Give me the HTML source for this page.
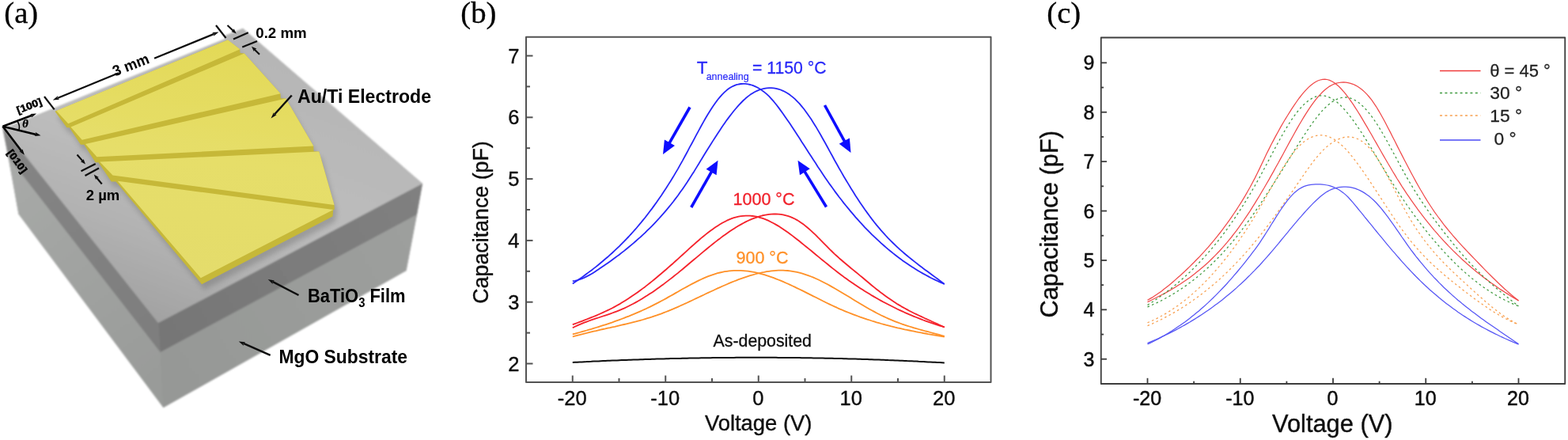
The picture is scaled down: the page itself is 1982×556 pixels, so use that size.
<!DOCTYPE html>
<html lang="en"><head><meta charset="utf-8"><title>Figure</title>
<style>html,body{margin:0;padding:0;background:#fff;}svg{display:block;}</style>
</head><body>
<svg width="1982" height="556" viewBox="0 0 1982 556">
<defs>
<linearGradient id="gTop" gradientUnits="userSpaceOnUse" x1="330" y1="40" x2="190" y2="410">
<stop offset="0" stop-color="#b5b5b5"/><stop offset="0.5" stop-color="#bcbcbc"/><stop offset="0.72" stop-color="#b3b3b3"/><stop offset="1" stop-color="#a1a1a1"/></linearGradient>
<linearGradient id="gFilmL" gradientUnits="userSpaceOnUse" x1="5" y1="170" x2="200" y2="430">
<stop offset="0" stop-color="#858585"/><stop offset="1" stop-color="#7e7e7e"/></linearGradient>
<linearGradient id="gFilmR" gradientUnits="userSpaceOnUse" x1="200" y1="430" x2="530" y2="250">
<stop offset="0" stop-color="#767676"/><stop offset="1" stop-color="#808080"/></linearGradient>
<linearGradient id="gSubL" gradientUnits="userSpaceOnUse" x1="15" y1="230" x2="205" y2="480">
<stop offset="0" stop-color="#a7a9a7"/><stop offset="1" stop-color="#999b99"/></linearGradient>
<linearGradient id="gSubR" gradientUnits="userSpaceOnUse" x1="205" y1="480" x2="520" y2="300">
<stop offset="0" stop-color="#969896"/><stop offset="1" stop-color="#9d9f9d"/></linearGradient>
<linearGradient id="gY" gradientUnits="userSpaceOnUse" x1="290" y1="50" x2="250" y2="350">
<stop offset="0" stop-color="#e3d957"/><stop offset="0.5" stop-color="#e6de69"/><stop offset="1" stop-color="#e4dc6c"/></linearGradient>
<filter id="blur3" x="-20%" y="-20%" width="140%" height="140%"><feGaussianBlur stdDeviation="3"/></filter>
<filter id="soft" x="-5%" y="-5%" width="110%" height="110%"><feGaussianBlur stdDeviation="1.0"/></filter>
<filter id="softT" x="-5%" y="-5%" width="110%" height="110%"><feGaussianBlur stdDeviation="0.4"/></filter>
<filter id="softE" x="-5%" y="-5%" width="110%" height="110%"><feGaussianBlur stdDeviation="0.75"/></filter>
</defs>
<g id="panelA" filter="url(#soft)">
<polygon points="3.00,160.50 10.00,160.17 285.00,48.90 283.50,45.51 307.00,36.00 534.00,232.00 527.00,271.00 513.50,342.00 206.50,515.00 23.50,270.50 10.40,198.00" fill="#8f908f" />
<polygon points="10.40,198.00 202.70,445.00 206.50,515.00 23.50,270.50" fill="url(#gSubL)" />
<polygon points="202.70,445.00 527.00,271.00 513.50,342.00 206.50,515.00" fill="url(#gSubR)" />
<polygon points="3.00,159.00 200.00,408.00 202.70,445.00 10.40,198.00" fill="url(#gFilmL)" />
<polygon points="200.00,408.00 534.00,232.00 527.00,271.00 202.70,445.00" fill="url(#gFilmR)" />
<polygon points="3.00,160.50 10.00,160.17 285.00,48.90 283.50,45.51 307.00,36.00 534.00,232.00 200.00,408.00" fill="url(#gTop)" />
</g>
<g id="electrode">
<polygon points="291.00,57.40 306.25,69.30 306.55,74.10 311.75,74.40 357.50,125.30 357.80,131.20 364.25,131.50 399.25,191.60 399.55,198.20 406.25,198.50 425.50,266.00 425.80,271.70 424.25,272.00 423.50,280.50 258.00,366.30 252.60,359.50 149.45,236.55 143.70,236.55 127.45,212.30 123.70,212.30 109.20,189.80 104.95,189.80 90.70,168.30 87.45,168.30 72.45,147.80" fill="#555" opacity="0.3" filter="url(#blur3)"/>
<g filter="url(#softE)">
<polygon points="288.00,50.40 303.25,62.30 303.55,67.10 308.75,67.40 354.50,118.30 354.80,124.20 361.25,124.50 396.25,184.60 396.55,191.20 403.25,191.50 422.50,259.00 422.80,264.70 421.25,265.00 420.50,273.50 255.00,359.30 249.60,352.50 146.45,229.55 140.70,229.55 124.45,205.30 120.70,205.30 106.20,182.80 101.95,182.80 87.70,161.30 84.45,161.30 69.45,140.80" fill="#c6b838" />
<polygon points="71.25,140.00 288.00,50.40 303.25,62.30 86.25,156.30" fill="url(#gY)" />
<polygon points="89.50,160.50 308.75,67.40 354.50,118.30 103.75,176.70" fill="url(#gY)" />
<polygon points="108.00,182.00 361.25,124.50 396.25,184.60 122.50,198.20" fill="url(#gY)" />
<polygon points="126.25,204.50 403.25,191.50 422.50,259.00 142.50,221.40" fill="url(#gY)" />
<polygon points="148.75,228.75 421.25,265.00 253.75,351.25" fill="url(#gY)" />
</g>
</g>
<g id="labelsA" filter="url(#softT)">
<text x="5.30" y="28.80" font-family='"Liberation Serif", "Times New Roman", serif' font-size="38.7" font-weight="normal" font-style="normal" fill="#000" text-anchor="start"  stroke="#000" stroke-width="0.3" stroke-linejoin="round">(a)</text>
<line x1="56.00" y1="122.00" x2="68.70" y2="138.40" stroke="#111" stroke-width="2.2" />
<line x1="273.00" y1="32.00" x2="285.50" y2="48.00" stroke="#111" stroke-width="2.2" />
<line x1="150.00" y1="92.30" x2="72.72" y2="123.97" stroke="#111" stroke-width="2.3" /><polygon points="66.80,126.40 73.25,121.05 72.35,124.12 75.15,125.68" fill="#111"/>
<line x1="195.00" y1="73.80" x2="270.58" y2="42.83" stroke="#111" stroke-width="2.3" /><polygon points="276.50,40.40 270.05,45.75 270.95,42.68 268.15,41.12" fill="#111"/>
<g transform="translate(167.5,88) rotate(-21.3)"><text x="0.00" y="0.00" font-family='"Liberation Sans", Arial, Helvetica, sans-serif' font-size="19" font-weight="bold" font-style="normal" fill="#000" text-anchor="middle" textLength="48" lengthAdjust="spacingAndGlyphs" >3 mm</text></g>
<line x1="295.00" y1="49.50" x2="313.75" y2="41.25" stroke="#111" stroke-width="2.2" />
<line x1="306.25" y1="59.50" x2="325.00" y2="52.00" stroke="#111" stroke-width="2.2" />
<line x1="287.50" y1="32.00" x2="294.95" y2="38.95" stroke="#111" stroke-width="2.1" /><polygon points="298.75,42.50 292.29,39.89 294.71,38.73 295.70,36.24" fill="#111"/>
<line x1="328.00" y1="68.75" x2="321.68" y2="62.43" stroke="#111" stroke-width="2.1" /><polygon points="318.00,58.75 324.36,61.58 321.91,62.66 320.83,65.11" fill="#111"/>
<text x="323.25" y="47.70" font-family='"Liberation Sans", Arial, Helvetica, sans-serif' font-size="18.5" font-weight="bold" font-style="normal" fill="#000" text-anchor="start" textLength="64.5" lengthAdjust="spacingAndGlyphs" >0.2 mm</text>
<line x1="102.50" y1="216.25" x2="120.75" y2="207.00" stroke="#111" stroke-width="2.2" />
<line x1="107.50" y1="222.00" x2="125.00" y2="212.50" stroke="#111" stroke-width="2.2" />
<line x1="97.50" y1="195.50" x2="104.58" y2="203.59" stroke="#111" stroke-width="2.1" /><polygon points="108.00,207.50 101.84,204.25 104.36,203.34 105.60,200.96" fill="#111"/>
<line x1="128.75" y1="232.50" x2="122.08" y2="224.49" stroke="#111" stroke-width="2.1" /><polygon points="118.75,220.50 124.83,223.89 122.29,224.74 120.99,227.09" fill="#111"/>
<text x="108.75" y="252.70" font-family='"Liberation Sans", Arial, Helvetica, sans-serif' font-size="19" font-weight="bold" font-style="normal" fill="#000" text-anchor="start" textLength="42.5" lengthAdjust="spacingAndGlyphs" >2 µm</text>
<line x1="3.50" y1="159.70" x2="40.39" y2="145.73" stroke="#000" stroke-width="2.6" /><polygon points="46.00,143.60 39.87,148.59 40.74,145.59 38.10,143.92" fill="#000"/>
<line x1="3.50" y1="159.70" x2="45.67" y2="169.89" stroke="#000" stroke-width="2.6" /><polygon points="51.50,171.30 43.62,171.97 46.03,169.98 44.80,167.11" fill="#000"/>
<line x1="3.50" y1="159.70" x2="27.27" y2="191.02" stroke="#000" stroke-width="2.6" /><polygon points="30.90,195.80 24.37,191.34 27.50,191.32 28.36,188.31" fill="#000"/>
<path d="M22,153.2 Q25.5,158 24,164.3" fill="none" stroke="#000" stroke-width="1.6"/>
<text x="28.30" y="161.30" font-family='"Liberation Serif", "Times New Roman", serif' font-size="14.5" font-weight="bold" font-style="italic" fill="#000" text-anchor="start"  stroke="#000" stroke-width="0.3" stroke-linejoin="round">θ</text>
<g transform="translate(37,134) rotate(-21)"><text x="0.00" y="4.00" font-family='"Liberation Sans", Arial, Helvetica, sans-serif' font-size="12.5" font-weight="bold" font-style="normal" fill="#000" text-anchor="middle" textLength="33" lengthAdjust="spacingAndGlyphs"  stroke="#000" stroke-width="0.5" stroke-linejoin="round">[100]</text></g>
<g transform="translate(21.5,204) rotate(54)"><text x="0.00" y="4.00" font-family='"Liberation Sans", Arial, Helvetica, sans-serif' font-size="12.5" font-weight="bold" font-style="normal" fill="#000" text-anchor="middle" textLength="33" lengthAdjust="spacingAndGlyphs"  stroke="#000" stroke-width="0.5" stroke-linejoin="round">[010]</text></g>
<line x1="368.75" y1="120.50" x2="346.79" y2="144.76" stroke="#111" stroke-width="2.5" /><polygon points="342.50,149.50 346.02,141.89 346.53,145.05 349.72,145.25" fill="#111"/>
<text x="376.00" y="129.50" font-family='"Liberation Sans", Arial, Helvetica, sans-serif' font-size="23.7" font-weight="bold" font-style="normal" fill="#000" text-anchor="start" textLength="169" lengthAdjust="spacingAndGlyphs" >Au/Ti Electrode</text>
<line x1="377.50" y1="373.00" x2="344.44" y2="355.94" stroke="#111" stroke-width="2.5" /><polygon points="338.75,353.00 347.01,354.45 344.08,355.75 344.71,358.89" fill="#111"/>
<text x="389" y="382.2" font-family='"Liberation Sans", Arial, sans-serif' font-size="23.7" font-weight="bold" fill="#000" textLength="123.5" lengthAdjust="spacingAndGlyphs">BaTiO<tspan font-size="16" dy="5.5">3</tspan><tspan dy="-5.5"> Film</tspan></text>
<line x1="341.70" y1="448.90" x2="307.66" y2="433.97" stroke="#111" stroke-width="2.5" /><polygon points="301.80,431.40 310.13,432.32 307.29,433.81 308.12,436.90" fill="#111"/>
<text x="352.50" y="459.30" font-family='"Liberation Sans", Arial, Helvetica, sans-serif' font-size="23.7" font-weight="bold" font-style="normal" fill="#000" text-anchor="start" textLength="162.5" lengthAdjust="spacingAndGlyphs" >MgO Substrate</text>
</g>
<g id="panelB" filter="url(#softT)">
<text x="582.30" y="28.80" font-family='"Liberation Serif", "Times New Roman", serif' font-size="38.7" font-weight="normal" font-style="normal" fill="#000" text-anchor="start"  stroke="#000" stroke-width="0.3" stroke-linejoin="round">(b)</text>
<rect x="665" y="46.75" width="587.5" height="436.25" fill="none" stroke="#525252" stroke-width="2.0" stroke-linejoin="round"/><line x1="723.75" y1="483.00" x2="723.75" y2="474.50" stroke="#525252" stroke-width="2.0" /><text x="723.25" y="511.80" font-family='"Liberation Sans", Arial, Helvetica, sans-serif' font-size="25.5" font-weight="normal" font-style="normal" fill="#111" text-anchor="middle"  stroke="#111" stroke-width="0.4" stroke-linejoin="round">-20</text><line x1="782.50" y1="483.00" x2="782.50" y2="478.00" stroke="#525252" stroke-width="2.0" /><line x1="841.25" y1="483.00" x2="841.25" y2="474.50" stroke="#525252" stroke-width="2.0" /><text x="840.75" y="511.80" font-family='"Liberation Sans", Arial, Helvetica, sans-serif' font-size="25.5" font-weight="normal" font-style="normal" fill="#111" text-anchor="middle"  stroke="#111" stroke-width="0.4" stroke-linejoin="round">-10</text><line x1="900.00" y1="483.00" x2="900.00" y2="478.00" stroke="#525252" stroke-width="2.0" /><line x1="958.75" y1="483.00" x2="958.75" y2="474.50" stroke="#525252" stroke-width="2.0" /><text x="958.25" y="511.80" font-family='"Liberation Sans", Arial, Helvetica, sans-serif' font-size="25.5" font-weight="normal" font-style="normal" fill="#111" text-anchor="middle"  stroke="#111" stroke-width="0.4" stroke-linejoin="round">0</text><line x1="1017.50" y1="483.00" x2="1017.50" y2="478.00" stroke="#525252" stroke-width="2.0" /><line x1="1076.25" y1="483.00" x2="1076.25" y2="474.50" stroke="#525252" stroke-width="2.0" /><text x="1075.75" y="511.80" font-family='"Liberation Sans", Arial, Helvetica, sans-serif' font-size="25.5" font-weight="normal" font-style="normal" fill="#111" text-anchor="middle"  stroke="#111" stroke-width="0.4" stroke-linejoin="round">10</text><line x1="1135.00" y1="483.00" x2="1135.00" y2="478.00" stroke="#525252" stroke-width="2.0" /><line x1="1193.75" y1="483.00" x2="1193.75" y2="474.50" stroke="#525252" stroke-width="2.0" /><text x="1193.25" y="511.80" font-family='"Liberation Sans", Arial, Helvetica, sans-serif' font-size="25.5" font-weight="normal" font-style="normal" fill="#111" text-anchor="middle"  stroke="#111" stroke-width="0.4" stroke-linejoin="round">20</text><line x1="665.00" y1="459.50" x2="673.50" y2="459.50" stroke="#525252" stroke-width="2.0" /><text x="656.50" y="468.63" font-family='"Liberation Sans", Arial, Helvetica, sans-serif' font-size="25.5" font-weight="normal" font-style="normal" fill="#111" text-anchor="end"  stroke="#111" stroke-width="0.4" stroke-linejoin="round">2</text><line x1="665.00" y1="420.60" x2="670.00" y2="420.60" stroke="#525252" stroke-width="2.0" /><line x1="665.00" y1="381.70" x2="673.50" y2="381.70" stroke="#525252" stroke-width="2.0" /><text x="656.50" y="390.83" font-family='"Liberation Sans", Arial, Helvetica, sans-serif' font-size="25.5" font-weight="normal" font-style="normal" fill="#111" text-anchor="end"  stroke="#111" stroke-width="0.4" stroke-linejoin="round">3</text><line x1="665.00" y1="342.80" x2="670.00" y2="342.80" stroke="#525252" stroke-width="2.0" /><line x1="665.00" y1="303.90" x2="673.50" y2="303.90" stroke="#525252" stroke-width="2.0" /><text x="656.50" y="313.03" font-family='"Liberation Sans", Arial, Helvetica, sans-serif' font-size="25.5" font-weight="normal" font-style="normal" fill="#111" text-anchor="end"  stroke="#111" stroke-width="0.4" stroke-linejoin="round">4</text><line x1="665.00" y1="265.00" x2="670.00" y2="265.00" stroke="#525252" stroke-width="2.0" /><line x1="665.00" y1="226.10" x2="673.50" y2="226.10" stroke="#525252" stroke-width="2.0" /><text x="656.50" y="235.23" font-family='"Liberation Sans", Arial, Helvetica, sans-serif' font-size="25.5" font-weight="normal" font-style="normal" fill="#111" text-anchor="end"  stroke="#111" stroke-width="0.4" stroke-linejoin="round">5</text><line x1="665.00" y1="187.20" x2="670.00" y2="187.20" stroke="#525252" stroke-width="2.0" /><line x1="665.00" y1="148.30" x2="673.50" y2="148.30" stroke="#525252" stroke-width="2.0" /><text x="656.50" y="157.43" font-family='"Liberation Sans", Arial, Helvetica, sans-serif' font-size="25.5" font-weight="normal" font-style="normal" fill="#111" text-anchor="end"  stroke="#111" stroke-width="0.4" stroke-linejoin="round">6</text><line x1="665.00" y1="109.40" x2="670.00" y2="109.40" stroke="#525252" stroke-width="2.0" /><line x1="665.00" y1="70.50" x2="673.50" y2="70.50" stroke="#525252" stroke-width="2.0" /><text x="656.50" y="79.63" font-family='"Liberation Sans", Arial, Helvetica, sans-serif' font-size="25.5" font-weight="normal" font-style="normal" fill="#111" text-anchor="end"  stroke="#111" stroke-width="0.4" stroke-linejoin="round">7</text>
<g transform="translate(616.5,281) rotate(-90)"><text x="0.00" y="0.00" font-family='"Liberation Sans", Arial, Helvetica, sans-serif' font-size="26.8" font-weight="normal" font-style="normal" fill="#111" text-anchor="middle"  stroke="#111" stroke-width="0.4" stroke-linejoin="round">Capacitance (pF)</text></g>
<text x="958.70" y="544.40" font-family='"Liberation Sans", Arial, Helvetica, sans-serif' font-size="27.4" font-weight="normal" font-style="normal" fill="#111" text-anchor="middle"  stroke="#111" stroke-width="0.4" stroke-linejoin="round">Voltage (V)</text>
<path d="M723.8,358.5 L726.7,356.5 L729.7,354.5 L732.6,352.5 L735.6,350.4 L738.5,348.3 L741.5,346.1 L744.4,343.9 L747.4,341.7 L750.4,339.4 L753.3,337.1 L756.3,334.7 L759.2,332.3 L762.2,329.8 L765.1,327.3 L768.1,324.8 L771.0,322.2 L774.0,319.5 L777.0,316.7 L779.9,313.9 L782.9,311.1 L785.8,308.2 L788.8,305.2 L791.7,302.1 L794.7,299.0 L797.6,295.8 L800.6,292.5 L803.6,289.2 L806.5,285.7 L809.5,282.2 L812.4,278.6 L815.4,275.0 L818.3,271.2 L821.3,267.3 L824.3,263.4 L827.2,259.4 L830.2,255.2 L833.1,251.0 L836.1,246.7 L839.0,242.3 L842.0,237.8 L844.9,233.1 L847.9,228.4 L850.9,223.6 L853.8,218.6 L856.8,213.6 L859.7,208.4 L862.7,203.1 L865.6,197.7 L868.6,192.3 L871.5,186.7 L874.5,181.2 L877.5,175.6 L880.4,170.1 L883.4,164.6 L886.3,159.2 L889.3,153.9 L892.2,148.8 L895.2,143.8 L898.2,139.1 L901.1,134.5 L904.1,130.3 L907.0,126.3 L910.0,122.6 L912.9,119.3 L915.9,116.4 L918.8,113.8 L921.8,111.6 L924.8,109.8 L927.7,108.4 L930.7,107.2 L933.6,106.5 L936.6,106.0 L939.5,105.8 L942.5,105.9 L945.4,106.3 L948.4,107.0 L951.4,107.9 L954.3,109.1 L957.3,110.5 L960.2,112.2 L963.2,114.2 L966.1,116.4 L969.1,118.9 L972.1,121.7 L975.0,124.8 L978.0,128.2 L980.9,131.8 L983.9,135.6 L986.8,139.6 L989.8,143.7 L992.7,148.0 L995.7,152.3 L998.7,156.6 L1001.6,161.0 L1004.6,165.5 L1007.5,170.0 L1010.5,174.6 L1013.4,179.2 L1016.4,183.7 L1019.3,188.3 L1022.3,192.9 L1025.3,197.5 L1028.2,202.1 L1031.2,206.6 L1034.1,211.2 L1037.1,215.6 L1040.0,220.0 L1043.0,224.4 L1046.0,228.7 L1048.9,232.9 L1051.9,237.0 L1054.8,241.1 L1057.8,245.1 L1060.7,249.0 L1063.7,252.8 L1066.6,256.6 L1069.6,260.3 L1072.6,263.9 L1075.5,267.4 L1078.5,270.9 L1081.4,274.3 L1084.4,277.6 L1087.3,280.9 L1090.3,284.1 L1093.2,287.3 L1096.2,290.3 L1099.2,293.3 L1102.1,296.3 L1105.1,299.1 L1108.0,301.9 L1111.0,304.7 L1113.9,307.4 L1116.9,310.0 L1119.9,312.6 L1122.8,315.1 L1125.8,317.5 L1128.7,319.9 L1131.7,322.2 L1134.6,324.5 L1137.6,326.7 L1140.5,328.9 L1143.5,331.0 L1146.5,333.0 L1149.4,335.0 L1152.4,337.0 L1155.3,338.8 L1158.3,340.7 L1161.2,342.5 L1164.2,344.2 L1167.1,345.9 L1170.1,347.5 L1173.1,349.1 L1176.0,350.7 L1179.0,352.2 L1181.9,353.6 L1184.9,355.0 L1187.8,356.4 L1190.8,357.7 L1193.8,359.0" fill="none" stroke="#2828f8" stroke-width="1.8" stroke-linejoin="round"/>
<path d="M723.8,355.2 L726.7,354.8 L729.7,354.1 L732.6,353.2 L735.6,352.1 L738.5,350.9 L741.5,349.4 L744.4,347.9 L747.4,346.2 L750.4,344.4 L753.3,342.5 L756.3,340.6 L759.2,338.6 L762.2,336.6 L765.1,334.6 L768.1,332.5 L771.0,330.4 L774.0,328.3 L777.0,326.1 L779.9,323.9 L782.9,321.7 L785.8,319.4 L788.8,317.1 L791.7,314.7 L794.7,312.3 L797.6,309.9 L800.6,307.4 L803.6,304.8 L806.5,302.2 L809.5,299.6 L812.4,296.8 L815.4,294.1 L818.3,291.2 L821.3,288.3 L824.3,285.4 L827.2,282.3 L830.2,279.2 L833.1,276.0 L836.1,272.7 L839.0,269.4 L842.0,265.9 L844.9,262.4 L847.9,258.7 L850.9,255.0 L853.8,251.1 L856.8,247.2 L859.7,243.1 L862.7,238.9 L865.6,234.7 L868.6,230.3 L871.5,225.7 L874.5,221.1 L877.5,216.4 L880.4,211.6 L883.4,206.8 L886.3,201.9 L889.3,197.1 L892.2,192.3 L895.2,187.5 L898.2,182.8 L901.1,178.1 L904.1,173.4 L907.0,168.9 L910.0,164.4 L912.9,160.0 L915.9,155.7 L918.8,151.6 L921.8,147.6 L924.8,143.7 L927.7,140.0 L930.7,136.5 L933.6,133.1 L936.6,130.0 L939.5,127.0 L942.5,124.3 L945.4,121.9 L948.4,119.6 L951.4,117.7 L954.3,116.0 L957.3,114.6 L960.2,113.5 L963.2,112.5 L966.1,111.8 L969.1,111.4 L972.1,111.1 L975.0,111.1 L978.0,111.4 L980.9,111.8 L983.9,112.6 L986.8,113.5 L989.8,114.8 L992.7,116.3 L995.7,118.0 L998.7,120.1 L1001.6,122.4 L1004.6,124.9 L1007.5,127.8 L1010.5,130.9 L1013.4,134.4 L1016.4,138.0 L1019.3,142.0 L1022.3,146.2 L1025.3,150.6 L1028.2,155.2 L1031.2,159.9 L1034.1,164.9 L1037.1,170.0 L1040.0,175.2 L1043.0,180.5 L1046.0,186.0 L1048.9,191.4 L1051.9,196.8 L1054.8,202.2 L1057.8,207.5 L1060.7,212.8 L1063.7,217.9 L1066.6,223.0 L1069.6,228.0 L1072.6,232.9 L1075.5,237.8 L1078.5,242.5 L1081.4,247.2 L1084.4,251.7 L1087.3,256.2 L1090.3,260.5 L1093.2,264.8 L1096.2,268.9 L1099.2,273.0 L1102.1,276.9 L1105.1,280.7 L1108.0,284.4 L1111.0,287.9 L1113.9,291.4 L1116.9,294.7 L1119.9,298.0 L1122.8,301.1 L1125.8,304.1 L1128.7,307.0 L1131.7,309.9 L1134.6,312.6 L1137.6,315.3 L1140.5,317.9 L1143.5,320.5 L1146.5,323.0 L1149.4,325.4 L1152.4,327.8 L1155.3,330.1 L1158.3,332.4 L1161.2,334.7 L1164.2,336.9 L1167.1,339.2 L1170.1,341.4 L1173.1,343.5 L1176.0,345.7 L1179.0,347.9 L1181.9,350.1 L1184.9,352.3 L1187.8,354.5 L1190.8,356.8 L1193.8,359.0" fill="none" stroke="#2828f8" stroke-width="1.8" stroke-linejoin="round"/>
<path d="M723.8,410.2 L726.7,409.1 L729.7,408.0 L732.6,406.9 L735.6,405.8 L738.5,404.7 L741.5,403.5 L744.4,402.4 L747.4,401.2 L750.4,400.0 L753.3,398.8 L756.3,397.5 L759.2,396.2 L762.2,394.9 L765.1,393.5 L768.1,392.1 L771.0,390.7 L774.0,389.2 L777.0,387.6 L779.9,386.0 L782.9,384.4 L785.8,382.6 L788.8,380.8 L791.7,379.0 L794.7,377.1 L797.6,375.1 L800.6,373.1 L803.6,371.1 L806.5,369.0 L809.5,366.8 L812.4,364.6 L815.4,362.4 L818.3,360.1 L821.3,357.7 L824.3,355.4 L827.2,353.0 L830.2,350.5 L833.1,348.0 L836.1,345.5 L839.0,343.0 L842.0,340.5 L844.9,337.9 L847.9,335.3 L850.9,332.7 L853.8,330.0 L856.8,327.3 L859.7,324.7 L862.7,322.0 L865.6,319.3 L868.6,316.6 L871.5,313.9 L874.5,311.3 L877.5,308.6 L880.4,306.0 L883.4,303.5 L886.3,300.9 L889.3,298.5 L892.2,296.1 L895.2,293.8 L898.2,291.5 L901.1,289.4 L904.1,287.3 L907.0,285.4 L910.0,283.5 L912.9,281.8 L915.9,280.2 L918.8,278.7 L921.8,277.4 L924.8,276.2 L927.7,275.2 L930.7,274.4 L933.6,273.7 L936.6,273.2 L939.5,272.8 L942.5,272.6 L945.4,272.6 L948.4,272.7 L951.4,273.0 L954.3,273.4 L957.3,274.0 L960.2,274.8 L963.2,275.7 L966.1,276.7 L969.1,277.9 L972.1,279.2 L975.0,280.7 L978.0,282.2 L980.9,283.9 L983.9,285.6 L986.8,287.5 L989.8,289.4 L992.7,291.5 L995.7,293.6 L998.7,295.7 L1001.6,297.9 L1004.6,300.2 L1007.5,302.5 L1010.5,304.8 L1013.4,307.2 L1016.4,309.6 L1019.3,312.0 L1022.3,314.4 L1025.3,316.8 L1028.2,319.2 L1031.2,321.7 L1034.1,324.1 L1037.1,326.6 L1040.0,329.0 L1043.0,331.4 L1046.0,333.8 L1048.9,336.2 L1051.9,338.6 L1054.8,340.9 L1057.8,343.2 L1060.7,345.5 L1063.7,347.7 L1066.6,349.9 L1069.6,352.0 L1072.6,354.2 L1075.5,356.2 L1078.5,358.3 L1081.4,360.3 L1084.4,362.3 L1087.3,364.2 L1090.3,366.1 L1093.2,368.0 L1096.2,369.8 L1099.2,371.6 L1102.1,373.4 L1105.1,375.1 L1108.0,376.8 L1111.0,378.5 L1113.9,380.1 L1116.9,381.7 L1119.9,383.3 L1122.8,384.8 L1125.8,386.3 L1128.7,387.8 L1131.7,389.3 L1134.6,390.7 L1137.6,392.1 L1140.5,393.4 L1143.5,394.8 L1146.5,396.1 L1149.4,397.4 L1152.4,398.6 L1155.3,399.8 L1158.3,401.0 L1161.2,402.2 L1164.2,403.3 L1167.1,404.5 L1170.1,405.6 L1173.1,406.6 L1176.0,407.7 L1179.0,408.7 L1181.9,409.7 L1184.9,410.7 L1187.8,411.6 L1190.8,412.5 L1193.8,413.4" fill="none" stroke="#f5202a" stroke-width="1.8" stroke-linejoin="round"/>
<path d="M723.8,414.3 L726.7,412.8 L729.7,411.4 L732.6,410.1 L735.6,408.9 L738.5,407.7 L741.5,406.6 L744.4,405.5 L747.4,404.4 L750.4,403.4 L753.3,402.4 L756.3,401.5 L759.2,400.5 L762.2,399.5 L765.1,398.6 L768.1,397.6 L771.0,396.6 L774.0,395.5 L777.0,394.4 L779.9,393.3 L782.9,392.1 L785.8,390.9 L788.8,389.6 L791.7,388.2 L794.7,386.8 L797.6,385.3 L800.6,383.8 L803.6,382.1 L806.5,380.5 L809.5,378.8 L812.4,377.0 L815.4,375.1 L818.3,373.3 L821.3,371.3 L824.3,369.4 L827.2,367.4 L830.2,365.3 L833.1,363.2 L836.1,361.0 L839.0,358.9 L842.0,356.6 L844.9,354.4 L847.9,352.1 L850.9,349.8 L853.8,347.4 L856.8,345.1 L859.7,342.6 L862.7,340.2 L865.6,337.8 L868.6,335.3 L871.5,332.8 L874.5,330.3 L877.5,327.8 L880.4,325.4 L883.4,322.9 L886.3,320.4 L889.3,317.9 L892.2,315.5 L895.2,313.0 L898.2,310.6 L901.1,308.3 L904.1,305.9 L907.0,303.6 L910.0,301.4 L912.9,299.1 L915.9,297.0 L918.8,294.9 L921.8,292.8 L924.8,290.8 L927.7,288.9 L930.7,287.0 L933.6,285.3 L936.6,283.6 L939.5,282.0 L942.5,280.4 L945.4,279.0 L948.4,277.7 L951.4,276.4 L954.3,275.3 L957.3,274.3 L960.2,273.3 L963.2,272.5 L966.1,271.9 L969.1,271.3 L972.1,270.9 L975.0,270.6 L978.0,270.5 L980.9,270.5 L983.9,270.6 L986.8,270.9 L989.8,271.4 L992.7,272.1 L995.7,272.9 L998.7,273.9 L1001.6,275.1 L1004.6,276.5 L1007.5,278.1 L1010.5,279.9 L1013.4,281.9 L1016.4,284.1 L1019.3,286.5 L1022.3,289.0 L1025.3,291.6 L1028.2,294.4 L1031.2,297.2 L1034.1,300.2 L1037.1,303.1 L1040.0,306.1 L1043.0,309.1 L1046.0,312.1 L1048.9,315.1 L1051.9,318.0 L1054.8,320.8 L1057.8,323.5 L1060.7,326.2 L1063.7,328.8 L1066.6,331.3 L1069.6,333.8 L1072.6,336.2 L1075.5,338.7 L1078.5,341.1 L1081.4,343.5 L1084.4,345.9 L1087.3,348.4 L1090.3,350.8 L1093.2,353.3 L1096.2,355.8 L1099.2,358.3 L1102.1,360.7 L1105.1,363.1 L1108.0,365.5 L1111.0,367.8 L1113.9,370.1 L1116.9,372.3 L1119.9,374.5 L1122.8,376.6 L1125.8,378.6 L1128.7,380.6 L1131.7,382.5 L1134.6,384.4 L1137.6,386.1 L1140.5,387.9 L1143.5,389.5 L1146.5,391.1 L1149.4,392.7 L1152.4,394.2 L1155.3,395.7 L1158.3,397.1 L1161.2,398.5 L1164.2,399.9 L1167.1,401.3 L1170.1,402.7 L1173.1,404.0 L1176.0,405.3 L1179.0,406.7 L1181.9,408.0 L1184.9,409.4 L1187.8,410.7 L1190.8,412.1 L1193.8,413.5" fill="none" stroke="#f5202a" stroke-width="1.8" stroke-linejoin="round"/>
<path d="M723.8,422.3 L726.7,421.6 L729.7,420.8 L732.6,420.0 L735.6,419.1 L738.5,418.3 L741.5,417.5 L744.4,416.6 L747.4,415.8 L750.4,414.9 L753.3,414.0 L756.3,413.1 L759.2,412.2 L762.2,411.2 L765.1,410.3 L768.1,409.3 L771.0,408.3 L774.0,407.3 L777.0,406.2 L779.9,405.2 L782.9,404.1 L785.8,403.0 L788.8,401.9 L791.7,400.7 L794.7,399.6 L797.6,398.4 L800.6,397.2 L803.6,395.9 L806.5,394.6 L809.5,393.3 L812.4,392.0 L815.4,390.7 L818.3,389.3 L821.3,387.9 L824.3,386.4 L827.2,384.9 L830.2,383.4 L833.1,381.9 L836.1,380.3 L839.0,378.7 L842.0,377.1 L844.9,375.4 L847.9,373.7 L850.9,372.1 L853.8,370.4 L856.8,368.7 L859.7,367.0 L862.7,365.3 L865.6,363.7 L868.6,362.1 L871.5,360.5 L874.5,358.9 L877.5,357.4 L880.4,355.9 L883.4,354.4 L886.3,353.0 L889.3,351.7 L892.2,350.4 L895.2,349.2 L898.2,348.1 L901.1,347.1 L904.1,346.1 L907.0,345.2 L910.0,344.5 L912.9,343.8 L915.9,343.2 L918.8,342.8 L921.8,342.4 L924.8,342.1 L927.7,341.9 L930.7,341.8 L933.6,341.8 L936.6,341.9 L939.5,342.1 L942.5,342.4 L945.4,342.7 L948.4,343.2 L951.4,343.7 L954.3,344.2 L957.3,344.9 L960.2,345.6 L963.2,346.4 L966.1,347.2 L969.1,348.2 L972.1,349.1 L975.0,350.1 L978.0,351.2 L980.9,352.3 L983.9,353.5 L986.8,354.7 L989.8,355.9 L992.7,357.2 L995.7,358.5 L998.7,359.9 L1001.6,361.2 L1004.6,362.6 L1007.5,364.1 L1010.5,365.5 L1013.4,366.9 L1016.4,368.4 L1019.3,369.9 L1022.3,371.4 L1025.3,372.9 L1028.2,374.4 L1031.2,375.8 L1034.1,377.3 L1037.1,378.8 L1040.0,380.3 L1043.0,381.7 L1046.0,383.2 L1048.9,384.6 L1051.9,386.0 L1054.8,387.4 L1057.8,388.7 L1060.7,390.1 L1063.7,391.3 L1066.6,392.6 L1069.6,393.8 L1072.6,395.0 L1075.5,396.2 L1078.5,397.3 L1081.4,398.4 L1084.4,399.5 L1087.3,400.6 L1090.3,401.6 L1093.2,402.6 L1096.2,403.6 L1099.2,404.5 L1102.1,405.5 L1105.1,406.4 L1108.0,407.3 L1111.0,408.1 L1113.9,409.0 L1116.9,409.8 L1119.9,410.6 L1122.8,411.3 L1125.8,412.1 L1128.7,412.8 L1131.7,413.6 L1134.6,414.3 L1137.6,414.9 L1140.5,415.6 L1143.5,416.3 L1146.5,416.9 L1149.4,417.5 L1152.4,418.1 L1155.3,418.7 L1158.3,419.3 L1161.2,419.9 L1164.2,420.4 L1167.1,421.0 L1170.1,421.5 L1173.1,422.1 L1176.0,422.6 L1179.0,423.1 L1181.9,423.6 L1184.9,424.1 L1187.8,424.6 L1190.8,425.0 L1193.8,425.5" fill="none" stroke="#ff9028" stroke-width="1.8" stroke-linejoin="round"/>
<path d="M723.8,425.5 L726.7,424.7 L729.7,423.9 L732.6,423.1 L735.6,422.3 L738.5,421.6 L741.5,420.9 L744.4,420.1 L747.4,419.4 L750.4,418.7 L753.3,418.1 L756.3,417.4 L759.2,416.7 L762.2,416.0 L765.1,415.4 L768.1,414.7 L771.0,414.1 L774.0,413.4 L777.0,412.8 L779.9,412.1 L782.9,411.4 L785.8,410.7 L788.8,410.0 L791.7,409.3 L794.7,408.6 L797.6,407.9 L800.6,407.1 L803.6,406.4 L806.5,405.6 L809.5,404.8 L812.4,404.0 L815.4,403.1 L818.3,402.2 L821.3,401.3 L824.3,400.4 L827.2,399.4 L830.2,398.4 L833.1,397.3 L836.1,396.3 L839.0,395.2 L842.0,394.0 L844.9,392.8 L847.9,391.6 L850.9,390.4 L853.8,389.1 L856.8,387.8 L859.7,386.5 L862.7,385.2 L865.6,383.8 L868.6,382.5 L871.5,381.1 L874.5,379.7 L877.5,378.3 L880.4,376.9 L883.4,375.5 L886.3,374.1 L889.3,372.7 L892.2,371.3 L895.2,369.9 L898.2,368.5 L901.1,367.2 L904.1,365.8 L907.0,364.4 L910.0,363.1 L912.9,361.8 L915.9,360.5 L918.8,359.2 L921.8,357.9 L924.8,356.7 L927.7,355.5 L930.7,354.4 L933.6,353.2 L936.6,352.1 L939.5,351.1 L942.5,350.1 L945.4,349.1 L948.4,348.2 L951.4,347.3 L954.3,346.5 L957.3,345.7 L960.2,345.0 L963.2,344.3 L966.1,343.8 L969.1,343.2 L972.1,342.8 L975.0,342.4 L978.0,342.1 L980.9,341.9 L983.9,341.7 L986.8,341.7 L989.8,341.7 L992.7,341.8 L995.7,342.0 L998.7,342.3 L1001.6,342.8 L1004.6,343.3 L1007.5,343.9 L1010.5,344.6 L1013.4,345.4 L1016.4,346.3 L1019.3,347.3 L1022.3,348.3 L1025.3,349.5 L1028.2,350.7 L1031.2,352.0 L1034.1,353.3 L1037.1,354.7 L1040.0,356.2 L1043.0,357.7 L1046.0,359.3 L1048.9,360.9 L1051.9,362.6 L1054.8,364.2 L1057.8,366.0 L1060.7,367.7 L1063.7,369.5 L1066.6,371.2 L1069.6,373.0 L1072.6,374.8 L1075.5,376.6 L1078.5,378.4 L1081.4,380.2 L1084.4,382.0 L1087.3,383.8 L1090.3,385.6 L1093.2,387.3 L1096.2,389.0 L1099.2,390.7 L1102.1,392.3 L1105.1,393.9 L1108.0,395.5 L1111.0,397.0 L1113.9,398.5 L1116.9,399.9 L1119.9,401.3 L1122.8,402.6 L1125.8,403.9 L1128.7,405.1 L1131.7,406.3 L1134.6,407.4 L1137.6,408.5 L1140.5,409.6 L1143.5,410.6 L1146.5,411.6 L1149.4,412.5 L1152.4,413.4 L1155.3,414.3 L1158.3,415.2 L1161.2,416.0 L1164.2,416.8 L1167.1,417.7 L1170.1,418.5 L1173.1,419.2 L1176.0,420.0 L1179.0,420.8 L1181.9,421.6 L1184.9,422.4 L1187.8,423.2 L1190.8,424.0 L1193.8,424.8" fill="none" stroke="#ff9028" stroke-width="1.8" stroke-linejoin="round"/>
<path d="M723.8,458.0 L726.7,457.8 L729.7,457.7 L732.6,457.5 L735.6,457.4 L738.5,457.2 L741.5,457.1 L744.4,456.9 L747.4,456.8 L750.4,456.6 L753.3,456.5 L756.3,456.4 L759.2,456.2 L762.2,456.1 L765.1,456.0 L768.1,455.8 L771.0,455.7 L774.0,455.6 L777.0,455.5 L779.9,455.4 L782.9,455.2 L785.8,455.1 L788.8,455.0 L791.7,454.9 L794.7,454.8 L797.6,454.7 L800.6,454.6 L803.6,454.5 L806.5,454.4 L809.5,454.3 L812.4,454.2 L815.4,454.1 L818.3,454.0 L821.3,453.9 L824.3,453.8 L827.2,453.7 L830.2,453.6 L833.1,453.5 L836.1,453.4 L839.0,453.4 L842.0,453.3 L844.9,453.2 L847.9,453.1 L850.9,453.1 L853.8,453.0 L856.8,452.9 L859.7,452.9 L862.7,452.8 L865.6,452.7 L868.6,452.7 L871.5,452.6 L874.5,452.5 L877.5,452.5 L880.4,452.4 L883.4,452.4 L886.3,452.3 L889.3,452.3 L892.2,452.2 L895.2,452.2 L898.2,452.2 L901.1,452.1 L904.1,452.1 L907.0,452.1 L910.0,452.0 L912.9,452.0 L915.9,452.0 L918.8,451.9 L921.8,451.9 L924.8,451.9 L927.7,451.9 L930.7,451.8 L933.6,451.8 L936.6,451.8 L939.5,451.8 L942.5,451.8 L945.4,451.8 L948.4,451.8 L951.4,451.8 L954.3,451.8 L957.3,451.8 L960.2,451.8 L963.2,451.8 L966.1,451.8 L969.1,451.8 L972.1,451.8 L975.0,451.8 L978.0,451.8 L980.9,451.8 L983.9,451.9 L986.8,451.9 L989.8,451.9 L992.7,451.9 L995.7,452.0 L998.7,452.0 L1001.6,452.0 L1004.6,452.0 L1007.5,452.1 L1010.5,452.1 L1013.4,452.2 L1016.4,452.2 L1019.3,452.2 L1022.3,452.3 L1025.3,452.3 L1028.2,452.4 L1031.2,452.4 L1034.1,452.5 L1037.1,452.5 L1040.0,452.6 L1043.0,452.7 L1046.0,452.7 L1048.9,452.8 L1051.9,452.8 L1054.8,452.9 L1057.8,453.0 L1060.7,453.1 L1063.7,453.1 L1066.6,453.2 L1069.6,453.3 L1072.6,453.4 L1075.5,453.4 L1078.5,453.5 L1081.4,453.6 L1084.4,453.7 L1087.3,453.8 L1090.3,453.9 L1093.2,454.0 L1096.2,454.1 L1099.2,454.2 L1102.1,454.3 L1105.1,454.4 L1108.0,454.5 L1111.0,454.6 L1113.9,454.7 L1116.9,454.8 L1119.9,454.9 L1122.8,455.1 L1125.8,455.2 L1128.7,455.3 L1131.7,455.4 L1134.6,455.5 L1137.6,455.7 L1140.5,455.8 L1143.5,455.9 L1146.5,456.1 L1149.4,456.2 L1152.4,456.3 L1155.3,456.5 L1158.3,456.6 L1161.2,456.8 L1164.2,456.9 L1167.1,457.0 L1170.1,457.2 L1173.1,457.4 L1176.0,457.5 L1179.0,457.7 L1181.9,457.8 L1184.9,458.0 L1187.8,458.1 L1190.8,458.3 L1193.8,458.5" fill="none" stroke="#111" stroke-width="2.0" stroke-linejoin="round"/>
<line x1="872.00" y1="135.50" x2="844.75" y2="183.19" stroke="#0a0aff" stroke-width="3.6" /><polygon points="838.00,195.00 839.92,176.52 846.43,180.24 852.95,183.96" fill="#0a0aff"/>
<line x1="873.75" y1="262.00" x2="900.77" y2="214.57" stroke="#0a0aff" stroke-width="3.6" /><polygon points="907.50,202.75 905.60,221.23 899.09,217.52 892.57,213.81" fill="#0a0aff"/>
<line x1="1044.50" y1="261.50" x2="1015.61" y2="214.35" stroke="#0a0aff" stroke-width="3.6" /><polygon points="1008.50,202.75 1023.78,213.33 1017.38,217.25 1010.99,221.16" fill="#0a0aff"/>
<line x1="1042.50" y1="133.00" x2="1068.95" y2="181.08" stroke="#0a0aff" stroke-width="3.6" /><polygon points="1075.50,193.00 1060.74,181.72 1067.31,178.10 1073.88,174.49" fill="#0a0aff"/>
<text x="880.70" y="92.60" font-family='"Liberation Sans", Arial, Helvetica, sans-serif' font-size="22.5" font-weight="normal" font-style="normal" fill="#2828f8" text-anchor="start"  stroke="#2828f8" stroke-width="0.3" stroke-linejoin="round">T</text>
<text x="892.70" y="100.60" font-family='"Liberation Sans", Arial, Helvetica, sans-serif' font-size="13.2" font-weight="normal" font-style="normal" fill="#2828f8" text-anchor="start" textLength="54" lengthAdjust="spacingAndGlyphs"  stroke="#2828f8" stroke-width="0.2" stroke-linejoin="round">annealing</text>
<text x="951.00" y="92.60" font-family='"Liberation Sans", Arial, Helvetica, sans-serif' font-size="22.5" font-weight="normal" font-style="normal" fill="#2828f8" text-anchor="start" textLength="93.5" lengthAdjust="spacingAndGlyphs"  stroke="#2828f8" stroke-width="0.3" stroke-linejoin="round">= 1150 °C</text>
<text x="965.50" y="259.00" font-family='"Liberation Sans", Arial, Helvetica, sans-serif' font-size="21.5" font-weight="normal" font-style="normal" fill="#f0202a" text-anchor="middle"  stroke="#f0202a" stroke-width="0.3" stroke-linejoin="round">1000 °C</text>
<text x="963.50" y="332.75" font-family='"Liberation Sans", Arial, Helvetica, sans-serif' font-size="21.5" font-weight="normal" font-style="normal" fill="#ff9028" text-anchor="middle"  stroke="#ff9028" stroke-width="0.3" stroke-linejoin="round">900 °C</text>
<text x="963.75" y="438.00" font-family='"Liberation Sans", Arial, Helvetica, sans-serif' font-size="21.3" font-weight="normal" font-style="normal" fill="#111" text-anchor="middle"  stroke="#111" stroke-width="0.3" stroke-linejoin="round">As-deposited</text>
</g>
<g id="panelC" filter="url(#softT)">
<text x="1323.30" y="28.80" font-family='"Liberation Serif", "Times New Roman", serif' font-size="38.7" font-weight="normal" font-style="normal" fill="#000" text-anchor="start"  stroke="#000" stroke-width="0.3" stroke-linejoin="round">(c)</text>
<rect x="1391.75" y="47.5" width="586.5" height="437.5" fill="none" stroke="#3c3c3c" stroke-width="1.8" stroke-linejoin="round"/><line x1="1450.50" y1="485.00" x2="1450.50" y2="477.80" stroke="#3c3c3c" stroke-width="1.8" /><text x="1450.00" y="512.30" font-family='"Liberation Sans", Arial, Helvetica, sans-serif' font-size="25" font-weight="normal" font-style="normal" fill="#111" text-anchor="middle"  stroke="#111" stroke-width="0.5" stroke-linejoin="round">-20</text><line x1="1509.12" y1="485.00" x2="1509.12" y2="481.70" stroke="#3c3c3c" stroke-width="1.8" /><line x1="1567.75" y1="485.00" x2="1567.75" y2="477.80" stroke="#3c3c3c" stroke-width="1.8" /><text x="1567.25" y="512.30" font-family='"Liberation Sans", Arial, Helvetica, sans-serif' font-size="25" font-weight="normal" font-style="normal" fill="#111" text-anchor="middle"  stroke="#111" stroke-width="0.5" stroke-linejoin="round">-10</text><line x1="1626.38" y1="485.00" x2="1626.38" y2="481.70" stroke="#3c3c3c" stroke-width="1.8" /><line x1="1685.00" y1="485.00" x2="1685.00" y2="477.80" stroke="#3c3c3c" stroke-width="1.8" /><text x="1684.50" y="512.30" font-family='"Liberation Sans", Arial, Helvetica, sans-serif' font-size="25" font-weight="normal" font-style="normal" fill="#111" text-anchor="middle"  stroke="#111" stroke-width="0.5" stroke-linejoin="round">0</text><line x1="1743.62" y1="485.00" x2="1743.62" y2="481.70" stroke="#3c3c3c" stroke-width="1.8" /><line x1="1802.25" y1="485.00" x2="1802.25" y2="477.80" stroke="#3c3c3c" stroke-width="1.8" /><text x="1801.75" y="512.30" font-family='"Liberation Sans", Arial, Helvetica, sans-serif' font-size="25" font-weight="normal" font-style="normal" fill="#111" text-anchor="middle"  stroke="#111" stroke-width="0.5" stroke-linejoin="round">10</text><line x1="1860.88" y1="485.00" x2="1860.88" y2="481.70" stroke="#3c3c3c" stroke-width="1.8" /><line x1="1919.50" y1="485.00" x2="1919.50" y2="477.80" stroke="#3c3c3c" stroke-width="1.8" /><text x="1919.00" y="512.30" font-family='"Liberation Sans", Arial, Helvetica, sans-serif' font-size="25" font-weight="normal" font-style="normal" fill="#111" text-anchor="middle"  stroke="#111" stroke-width="0.5" stroke-linejoin="round">20</text><line x1="1391.75" y1="453.75" x2="1398.95" y2="453.75" stroke="#3c3c3c" stroke-width="1.8" /><text x="1383.50" y="462.70" font-family='"Liberation Sans", Arial, Helvetica, sans-serif' font-size="25" font-weight="normal" font-style="normal" fill="#111" text-anchor="end"  stroke="#111" stroke-width="0.5" stroke-linejoin="round">3</text><line x1="1391.75" y1="422.55" x2="1395.05" y2="422.55" stroke="#3c3c3c" stroke-width="1.8" /><line x1="1391.75" y1="391.35" x2="1398.95" y2="391.35" stroke="#3c3c3c" stroke-width="1.8" /><text x="1383.50" y="400.30" font-family='"Liberation Sans", Arial, Helvetica, sans-serif' font-size="25" font-weight="normal" font-style="normal" fill="#111" text-anchor="end"  stroke="#111" stroke-width="0.5" stroke-linejoin="round">4</text><line x1="1391.75" y1="360.15" x2="1395.05" y2="360.15" stroke="#3c3c3c" stroke-width="1.8" /><line x1="1391.75" y1="328.95" x2="1398.95" y2="328.95" stroke="#3c3c3c" stroke-width="1.8" /><text x="1383.50" y="337.90" font-family='"Liberation Sans", Arial, Helvetica, sans-serif' font-size="25" font-weight="normal" font-style="normal" fill="#111" text-anchor="end"  stroke="#111" stroke-width="0.5" stroke-linejoin="round">5</text><line x1="1391.75" y1="297.75" x2="1395.05" y2="297.75" stroke="#3c3c3c" stroke-width="1.8" /><line x1="1391.75" y1="266.55" x2="1398.95" y2="266.55" stroke="#3c3c3c" stroke-width="1.8" /><text x="1383.50" y="275.50" font-family='"Liberation Sans", Arial, Helvetica, sans-serif' font-size="25" font-weight="normal" font-style="normal" fill="#111" text-anchor="end"  stroke="#111" stroke-width="0.5" stroke-linejoin="round">6</text><line x1="1391.75" y1="235.35" x2="1395.05" y2="235.35" stroke="#3c3c3c" stroke-width="1.8" /><line x1="1391.75" y1="204.15" x2="1398.95" y2="204.15" stroke="#3c3c3c" stroke-width="1.8" /><text x="1383.50" y="213.10" font-family='"Liberation Sans", Arial, Helvetica, sans-serif' font-size="25" font-weight="normal" font-style="normal" fill="#111" text-anchor="end"  stroke="#111" stroke-width="0.5" stroke-linejoin="round">7</text><line x1="1391.75" y1="172.95" x2="1395.05" y2="172.95" stroke="#3c3c3c" stroke-width="1.8" /><line x1="1391.75" y1="141.75" x2="1398.95" y2="141.75" stroke="#3c3c3c" stroke-width="1.8" /><text x="1383.50" y="150.70" font-family='"Liberation Sans", Arial, Helvetica, sans-serif' font-size="25" font-weight="normal" font-style="normal" fill="#111" text-anchor="end"  stroke="#111" stroke-width="0.5" stroke-linejoin="round">8</text><line x1="1391.75" y1="110.55" x2="1395.05" y2="110.55" stroke="#3c3c3c" stroke-width="1.8" /><line x1="1391.75" y1="79.35" x2="1398.95" y2="79.35" stroke="#3c3c3c" stroke-width="1.8" /><text x="1383.50" y="88.30" font-family='"Liberation Sans", Arial, Helvetica, sans-serif' font-size="25" font-weight="normal" font-style="normal" fill="#111" text-anchor="end"  stroke="#111" stroke-width="0.5" stroke-linejoin="round">9</text>
<g transform="translate(1337,283.3) rotate(-90)"><text x="0.00" y="0.00" font-family='"Liberation Sans", Arial, Helvetica, sans-serif' font-size="30.85" font-weight="normal" font-style="normal" fill="#111" text-anchor="middle"  stroke="#111" stroke-width="0.4" stroke-linejoin="round">Capacitance (pF)</text></g>
<text x="1684.30" y="546.30" font-family='"Liberation Sans", Arial, Helvetica, sans-serif' font-size="30.8" font-weight="normal" font-style="normal" fill="#111" text-anchor="middle"  stroke="#111" stroke-width="0.4" stroke-linejoin="round">Voltage (V)</text>
<path d="M1450.5,379.3 L1453.4,377.6 L1456.4,375.9 L1459.3,374.0 L1462.3,372.1 L1465.2,370.0 L1468.2,367.9 L1471.1,365.6 L1474.1,363.3 L1477.0,361.0 L1480.0,358.5 L1482.9,356.0 L1485.9,353.4 L1488.8,350.8 L1491.8,348.2 L1494.7,345.5 L1497.7,342.8 L1500.6,340.0 L1503.6,337.1 L1506.5,334.3 L1509.5,331.3 L1512.4,328.3 L1515.4,325.3 L1518.3,322.1 L1521.3,318.9 L1524.2,315.7 L1527.2,312.3 L1530.1,308.9 L1533.1,305.4 L1536.0,301.9 L1539.0,298.2 L1541.9,294.5 L1544.9,290.6 L1547.8,286.7 L1550.8,282.7 L1553.7,278.6 L1556.7,274.3 L1559.6,270.0 L1562.6,265.6 L1565.5,261.0 L1568.5,256.4 L1571.4,251.6 L1574.4,246.6 L1577.3,241.5 L1580.3,236.2 L1583.2,230.8 L1586.2,225.1 L1589.1,219.2 L1592.1,213.1 L1595.0,206.9 L1598.0,200.7 L1600.9,194.6 L1603.9,188.6 L1606.8,182.8 L1609.8,177.1 L1612.7,171.6 L1615.7,166.2 L1618.6,160.9 L1621.6,155.8 L1624.5,150.8 L1627.5,146.0 L1630.4,141.3 L1633.4,136.7 L1636.3,132.3 L1639.3,128.0 L1642.2,124.0 L1645.2,120.2 L1648.1,116.6 L1651.1,113.4 L1654.0,110.4 L1657.0,107.7 L1659.9,105.5 L1662.9,103.5 L1665.8,102.0 L1668.8,101.0 L1671.7,100.3 L1674.7,100.2 L1677.6,100.5 L1680.6,101.4 L1683.5,102.7 L1686.5,104.5 L1689.4,106.7 L1692.4,109.3 L1695.3,112.3 L1698.3,115.6 L1701.2,119.2 L1704.2,123.0 L1707.1,127.1 L1710.1,131.4 L1713.0,135.8 L1716.0,140.5 L1718.9,145.2 L1721.9,150.1 L1724.8,155.1 L1727.8,160.1 L1730.7,165.2 L1733.7,170.3 L1736.6,175.5 L1739.6,180.6 L1742.5,185.8 L1745.5,191.0 L1748.4,196.1 L1751.4,201.2 L1754.3,206.3 L1757.3,211.3 L1760.2,216.3 L1763.2,221.2 L1766.1,226.0 L1769.1,230.7 L1772.0,235.3 L1775.0,239.8 L1777.9,244.3 L1780.9,248.6 L1783.8,252.9 L1786.8,257.1 L1789.7,261.2 L1792.7,265.3 L1795.6,269.2 L1798.6,273.1 L1801.5,276.9 L1804.5,280.6 L1807.4,284.2 L1810.4,287.8 L1813.3,291.3 L1816.3,294.7 L1819.2,298.1 L1822.2,301.4 L1825.1,304.6 L1828.1,307.8 L1831.0,310.9 L1834.0,313.9 L1836.9,316.9 L1839.9,319.8 L1842.8,322.6 L1845.8,325.4 L1848.7,328.2 L1851.7,330.8 L1854.6,333.5 L1857.6,336.0 L1860.5,338.5 L1863.5,341.0 L1866.4,343.4 L1869.4,345.8 L1872.3,348.1 L1875.3,350.4 L1878.2,352.6 L1881.2,354.8 L1884.1,357.0 L1887.1,359.1 L1890.0,361.1 L1893.0,363.2 L1895.9,365.2 L1898.9,367.1 L1901.8,369.0 L1904.8,370.9 L1907.7,372.8 L1910.7,374.6 L1913.6,376.4 L1916.6,378.2 L1919.5,379.9" fill="none" stroke="#f04a4a" stroke-width="1.25"/>
<path d="M1450.5,381.6 L1453.4,380.2 L1456.4,378.8 L1459.3,377.3 L1462.3,375.8 L1465.2,374.3 L1468.2,372.7 L1471.1,371.2 L1474.1,369.6 L1477.0,367.9 L1480.0,366.2 L1482.9,364.5 L1485.9,362.7 L1488.8,360.8 L1491.8,359.0 L1494.7,357.0 L1497.7,355.0 L1500.6,353.0 L1503.6,350.9 L1506.5,348.7 L1509.5,346.5 L1512.4,344.1 L1515.4,341.8 L1518.3,339.3 L1521.3,336.8 L1524.2,334.2 L1527.2,331.5 L1530.1,328.7 L1533.1,325.8 L1536.0,322.9 L1539.0,319.8 L1541.9,316.7 L1544.9,313.4 L1547.8,310.1 L1550.8,306.7 L1553.7,303.1 L1556.7,299.5 L1559.6,295.7 L1562.6,291.8 L1565.5,287.8 L1568.5,283.7 L1571.4,279.5 L1574.4,275.2 L1577.3,270.8 L1580.3,266.3 L1583.2,261.6 L1586.2,256.9 L1589.1,252.1 L1592.1,247.3 L1595.0,242.3 L1598.0,237.3 L1600.9,232.2 L1603.9,227.1 L1606.8,221.9 L1609.8,216.6 L1612.7,211.3 L1615.7,206.0 L1618.6,200.6 L1621.6,195.2 L1624.5,189.7 L1627.5,184.3 L1630.4,178.9 L1633.4,173.5 L1636.3,168.2 L1639.3,162.9 L1642.2,157.8 L1645.2,152.7 L1648.1,147.9 L1651.1,143.1 L1654.0,138.6 L1657.0,134.2 L1659.9,130.1 L1662.9,126.2 L1665.8,122.6 L1668.8,119.3 L1671.7,116.2 L1674.7,113.5 L1677.6,111.2 L1680.6,109.1 L1683.5,107.5 L1686.5,106.2 L1689.4,105.1 L1692.4,104.5 L1695.3,104.1 L1698.3,104.0 L1701.2,104.1 L1704.2,104.6 L1707.1,105.3 L1710.1,106.3 L1713.0,107.6 L1716.0,109.3 L1718.9,111.2 L1721.9,113.5 L1724.8,116.1 L1727.8,119.1 L1730.7,122.5 L1733.7,126.2 L1736.6,130.3 L1739.6,134.8 L1742.5,139.6 L1745.5,144.7 L1748.4,150.0 L1751.4,155.5 L1754.3,161.2 L1757.3,166.9 L1760.2,172.7 L1763.2,178.5 L1766.1,184.4 L1769.1,190.2 L1772.0,195.9 L1775.0,201.7 L1777.9,207.3 L1780.9,213.0 L1783.8,218.5 L1786.8,224.0 L1789.7,229.4 L1792.7,234.7 L1795.6,239.8 L1798.6,244.8 L1801.5,249.7 L1804.5,254.5 L1807.4,259.0 L1810.4,263.5 L1813.3,267.8 L1816.3,272.0 L1819.2,276.0 L1822.2,279.9 L1825.1,283.8 L1828.1,287.5 L1831.0,291.1 L1834.0,294.7 L1836.9,298.1 L1839.9,301.5 L1842.8,304.8 L1845.8,308.1 L1848.7,311.3 L1851.7,314.5 L1854.6,317.6 L1857.6,320.7 L1860.5,323.8 L1863.5,326.9 L1866.4,329.9 L1869.4,333.0 L1872.3,336.0 L1875.3,339.1 L1878.2,342.1 L1881.2,345.1 L1884.1,348.0 L1887.1,351.0 L1890.0,353.8 L1893.0,356.7 L1895.9,359.5 L1898.9,362.3 L1901.8,365.0 L1904.8,367.6 L1907.7,370.2 L1910.7,372.8 L1913.6,375.2 L1916.6,377.6 L1919.5,379.9" fill="none" stroke="#f04a4a" stroke-width="1.25"/>
<path d="M1450.5,385.5 L1453.4,383.6 L1456.4,381.7 L1459.3,379.8 L1462.3,377.8 L1465.2,375.7 L1468.2,373.6 L1471.1,371.5 L1474.1,369.3 L1477.0,367.0 L1480.0,364.7 L1482.9,362.4 L1485.9,359.9 L1488.8,357.5 L1491.8,354.9 L1494.7,352.3 L1497.7,349.7 L1500.6,347.0 L1503.6,344.2 L1506.5,341.3 L1509.5,338.4 L1512.4,335.4 L1515.4,332.4 L1518.3,329.2 L1521.3,326.0 L1524.2,322.8 L1527.2,319.4 L1530.1,316.0 L1533.1,312.5 L1536.0,308.9 L1539.0,305.3 L1541.9,301.5 L1544.9,297.7 L1547.8,293.8 L1550.8,289.8 L1553.7,285.7 L1556.7,281.5 L1559.6,277.3 L1562.6,272.9 L1565.5,268.5 L1568.5,264.0 L1571.4,259.3 L1574.4,254.6 L1577.3,249.8 L1580.3,244.9 L1583.2,239.9 L1586.2,234.7 L1589.1,229.5 L1592.1,224.2 L1595.0,218.8 L1598.0,213.2 L1600.9,207.7 L1603.9,202.1 L1606.8,196.5 L1609.8,190.9 L1612.7,185.4 L1615.7,179.9 L1618.6,174.6 L1621.6,169.3 L1624.5,164.3 L1627.5,159.4 L1630.4,154.7 L1633.4,150.2 L1636.3,146.0 L1639.3,142.1 L1642.2,138.5 L1645.2,135.2 L1648.1,132.1 L1651.1,129.5 L1654.0,127.1 L1657.0,125.1 L1659.9,123.5 L1662.9,122.2 L1665.8,121.4 L1668.8,120.9 L1671.7,120.8 L1674.7,121.2 L1677.6,121.9 L1680.6,123.1 L1683.5,124.6 L1686.5,126.5 L1689.4,128.7 L1692.4,131.2 L1695.3,134.0 L1698.3,137.1 L1701.2,140.4 L1704.2,144.0 L1707.1,147.7 L1710.1,151.6 L1713.0,155.7 L1716.0,160.0 L1718.9,164.4 L1721.9,168.9 L1724.8,173.5 L1727.8,178.2 L1730.7,183.0 L1733.7,187.8 L1736.6,192.7 L1739.6,197.6 L1742.5,202.5 L1745.5,207.4 L1748.4,212.3 L1751.4,217.2 L1754.3,222.0 L1757.3,226.8 L1760.2,231.5 L1763.2,236.1 L1766.1,240.7 L1769.1,245.2 L1772.0,249.6 L1775.0,254.0 L1777.9,258.3 L1780.9,262.5 L1783.8,266.7 L1786.8,270.7 L1789.7,274.8 L1792.7,278.7 L1795.6,282.6 L1798.6,286.5 L1801.5,290.2 L1804.5,293.9 L1807.4,297.6 L1810.4,301.1 L1813.3,304.6 L1816.3,308.1 L1819.2,311.4 L1822.2,314.7 L1825.1,318.0 L1828.1,321.1 L1831.0,324.2 L1834.0,327.3 L1836.9,330.3 L1839.9,333.2 L1842.8,336.0 L1845.8,338.8 L1848.7,341.5 L1851.7,344.1 L1854.6,346.7 L1857.6,349.2 L1860.5,351.7 L1863.5,354.0 L1866.4,356.3 L1869.4,358.6 L1872.3,360.8 L1875.3,362.9 L1878.2,364.9 L1881.2,366.9 L1884.1,368.8 L1887.1,370.7 L1890.0,372.5 L1893.0,374.2 L1895.9,375.9 L1898.9,377.5 L1901.8,379.0 L1904.8,380.4 L1907.7,381.8 L1910.7,383.2 L1913.6,384.4 L1916.6,385.6 L1919.5,386.8" fill="none" stroke="#3f9a3f" stroke-width="1.25" stroke-dasharray="2.6 3.4"/>
<path d="M1450.5,387.9 L1453.4,386.6 L1456.4,385.3 L1459.3,384.0 L1462.3,382.6 L1465.2,381.1 L1468.2,379.7 L1471.1,378.1 L1474.1,376.5 L1477.0,374.9 L1480.0,373.2 L1482.9,371.5 L1485.9,369.7 L1488.8,367.8 L1491.8,365.9 L1494.7,363.9 L1497.7,361.9 L1500.6,359.8 L1503.6,357.6 L1506.5,355.4 L1509.5,353.1 L1512.4,350.8 L1515.4,348.4 L1518.3,345.9 L1521.3,343.3 L1524.2,340.7 L1527.2,338.0 L1530.1,335.3 L1533.1,332.4 L1536.0,329.5 L1539.0,326.5 L1541.9,323.5 L1544.9,320.3 L1547.8,317.1 L1550.8,313.8 L1553.7,310.4 L1556.7,307.0 L1559.6,303.4 L1562.6,299.8 L1565.5,296.1 L1568.5,292.3 L1571.4,288.4 L1574.4,284.5 L1577.3,280.4 L1580.3,276.3 L1583.2,272.2 L1586.2,267.9 L1589.1,263.6 L1592.1,259.3 L1595.0,254.9 L1598.0,250.4 L1600.9,245.9 L1603.9,241.4 L1606.8,236.8 L1609.8,232.2 L1612.7,227.6 L1615.7,222.9 L1618.6,218.3 L1621.6,213.5 L1624.5,208.8 L1627.5,204.1 L1630.4,199.4 L1633.4,194.6 L1636.3,189.9 L1639.3,185.2 L1642.2,180.6 L1645.2,175.9 L1648.1,171.4 L1651.1,167.0 L1654.0,162.6 L1657.0,158.3 L1659.9,154.2 L1662.9,150.3 L1665.8,146.5 L1668.8,142.9 L1671.7,139.6 L1674.7,136.5 L1677.6,133.7 L1680.6,131.2 L1683.5,129.0 L1686.5,127.1 L1689.4,125.6 L1692.4,124.4 L1695.3,123.5 L1698.3,123.1 L1701.2,123.0 L1704.2,123.4 L1707.1,124.1 L1710.1,125.3 L1713.0,126.8 L1716.0,128.7 L1718.9,130.9 L1721.9,133.5 L1724.8,136.4 L1727.8,139.6 L1730.7,143.1 L1733.7,146.9 L1736.6,151.0 L1739.6,155.4 L1742.5,159.9 L1745.5,164.8 L1748.4,169.8 L1751.4,174.9 L1754.3,180.2 L1757.3,185.6 L1760.2,191.1 L1763.2,196.6 L1766.1,202.1 L1769.1,207.6 L1772.0,213.0 L1775.0,218.4 L1777.9,223.6 L1780.9,228.8 L1783.8,233.7 L1786.8,238.6 L1789.7,243.3 L1792.7,248.0 L1795.6,252.5 L1798.6,256.9 L1801.5,261.2 L1804.5,265.5 L1807.4,269.6 L1810.4,273.7 L1813.3,277.7 L1816.3,281.7 L1819.2,285.5 L1822.2,289.4 L1825.1,293.2 L1828.1,296.9 L1831.0,300.6 L1834.0,304.3 L1836.9,308.0 L1839.9,311.5 L1842.8,315.1 L1845.8,318.6 L1848.7,322.0 L1851.7,325.3 L1854.6,328.6 L1857.6,331.8 L1860.5,334.9 L1863.5,338.0 L1866.4,341.0 L1869.4,343.9 L1872.3,346.8 L1875.3,349.6 L1878.2,352.4 L1881.2,355.1 L1884.1,357.8 L1887.1,360.4 L1890.0,362.9 L1893.0,365.5 L1895.9,368.0 L1898.9,370.4 L1901.8,372.8 L1904.8,375.2 L1907.7,377.6 L1910.7,379.9 L1913.6,382.2 L1916.6,384.5 L1919.5,386.7" fill="none" stroke="#3f9a3f" stroke-width="1.25" stroke-dasharray="2.6 3.4"/>
<path d="M1450.5,407.8 L1453.4,406.5 L1456.4,405.2 L1459.3,403.8 L1462.3,402.4 L1465.2,400.8 L1468.2,399.2 L1471.1,397.6 L1474.1,395.9 L1477.0,394.1 L1480.0,392.2 L1482.9,390.2 L1485.9,388.2 L1488.8,386.2 L1491.8,384.0 L1494.7,381.8 L1497.7,379.5 L1500.6,377.1 L1503.6,374.7 L1506.5,372.1 L1509.5,369.5 L1512.4,366.9 L1515.4,364.1 L1518.3,361.3 L1521.3,358.4 L1524.2,355.4 L1527.2,352.3 L1530.1,349.2 L1533.1,345.9 L1536.0,342.6 L1539.0,339.2 L1541.9,335.8 L1544.9,332.2 L1547.8,328.5 L1550.8,324.8 L1553.7,321.0 L1556.7,317.1 L1559.6,313.1 L1562.6,309.0 L1565.5,304.9 L1568.5,300.6 L1571.4,296.3 L1574.4,291.9 L1577.3,287.3 L1580.3,282.7 L1583.2,278.0 L1586.2,273.2 L1589.1,268.2 L1592.1,263.2 L1595.0,258.1 L1598.0,252.9 L1600.9,247.7 L1603.9,242.5 L1606.8,237.3 L1609.8,232.1 L1612.7,227.0 L1615.7,221.9 L1618.6,217.0 L1621.6,212.2 L1624.5,207.6 L1627.5,203.2 L1630.4,198.9 L1633.4,194.9 L1636.3,191.2 L1639.3,187.8 L1642.2,184.6 L1645.2,181.8 L1648.1,179.3 L1651.1,177.1 L1654.0,175.2 L1657.0,173.7 L1659.9,172.5 L1662.9,171.6 L1665.8,171.0 L1668.8,170.8 L1671.7,170.9 L1674.7,171.3 L1677.6,172.0 L1680.6,173.1 L1683.5,174.5 L1686.5,176.1 L1689.4,178.1 L1692.4,180.4 L1695.3,182.9 L1698.3,185.6 L1701.2,188.6 L1704.2,191.9 L1707.1,195.4 L1710.1,199.0 L1713.0,202.8 L1716.0,206.8 L1718.9,210.8 L1721.9,215.0 L1724.8,219.2 L1727.8,223.5 L1730.7,227.9 L1733.7,232.4 L1736.6,236.8 L1739.6,241.3 L1742.5,245.9 L1745.5,250.4 L1748.4,255.0 L1751.4,259.5 L1754.3,264.0 L1757.3,268.5 L1760.2,272.9 L1763.2,277.3 L1766.1,281.6 L1769.1,285.8 L1772.0,289.9 L1775.0,293.9 L1777.9,297.8 L1780.9,301.6 L1783.8,305.3 L1786.8,308.8 L1789.7,312.3 L1792.7,315.6 L1795.6,318.8 L1798.6,322.0 L1801.5,325.1 L1804.5,328.0 L1807.4,330.9 L1810.4,333.8 L1813.3,336.5 L1816.3,339.2 L1819.2,341.8 L1822.2,344.4 L1825.1,346.9 L1828.1,349.4 L1831.0,351.8 L1834.0,354.3 L1836.9,356.6 L1839.9,359.0 L1842.8,361.3 L1845.8,363.6 L1848.7,365.9 L1851.7,368.2 L1854.6,370.5 L1857.6,372.7 L1860.5,375.0 L1863.5,377.2 L1866.4,379.3 L1869.4,381.5 L1872.3,383.6 L1875.3,385.6 L1878.2,387.6 L1881.2,389.6 L1884.1,391.6 L1887.1,393.4 L1890.0,395.3 L1893.0,397.0 L1895.9,398.8 L1898.9,400.4 L1901.8,402.0 L1904.8,403.5 L1907.7,405.0 L1910.7,406.4 L1913.6,407.7 L1916.6,408.9 L1919.5,410.1" fill="none" stroke="#f8a050" stroke-width="1.25" stroke-dasharray="2.6 3.4"/>
<path d="M1450.5,411.6 L1453.4,410.4 L1456.4,409.1 L1459.3,407.7 L1462.3,406.3 L1465.2,404.9 L1468.2,403.5 L1471.1,402.0 L1474.1,400.4 L1477.0,398.9 L1480.0,397.2 L1482.9,395.6 L1485.9,393.9 L1488.8,392.1 L1491.8,390.3 L1494.7,388.5 L1497.7,386.6 L1500.6,384.7 L1503.6,382.7 L1506.5,380.7 L1509.5,378.6 L1512.4,376.5 L1515.4,374.3 L1518.3,372.1 L1521.3,369.8 L1524.2,367.5 L1527.2,365.1 L1530.1,362.7 L1533.1,360.2 L1536.0,357.7 L1539.0,355.1 L1541.9,352.5 L1544.9,349.8 L1547.8,347.0 L1550.8,344.2 L1553.7,341.3 L1556.7,338.4 L1559.6,335.4 L1562.6,332.4 L1565.5,329.3 L1568.5,326.1 L1571.4,322.9 L1574.4,319.6 L1577.3,316.3 L1580.3,312.9 L1583.2,309.4 L1586.2,305.8 L1589.1,302.2 L1592.1,298.6 L1595.0,294.8 L1598.0,291.0 L1600.9,287.2 L1603.9,283.3 L1606.8,279.3 L1609.8,275.3 L1612.7,271.3 L1615.7,267.2 L1618.6,263.1 L1621.6,258.9 L1624.5,254.8 L1627.5,250.6 L1630.4,246.3 L1633.4,242.1 L1636.3,237.8 L1639.3,233.5 L1642.2,229.3 L1645.2,225.0 L1648.1,220.7 L1651.1,216.4 L1654.0,212.3 L1657.0,208.2 L1659.9,204.3 L1662.9,200.6 L1665.8,197.0 L1668.8,193.7 L1671.7,190.6 L1674.7,187.7 L1677.6,185.1 L1680.6,182.7 L1683.5,180.5 L1686.5,178.6 L1689.4,177.0 L1692.4,175.6 L1695.3,174.5 L1698.3,173.7 L1701.2,173.2 L1704.2,173.0 L1707.1,173.1 L1710.1,173.6 L1713.0,174.4 L1716.0,175.5 L1718.9,177.0 L1721.9,178.8 L1724.8,181.1 L1727.8,183.7 L1730.7,186.7 L1733.7,190.1 L1736.6,193.9 L1739.6,198.1 L1742.5,202.7 L1745.5,207.5 L1748.4,212.7 L1751.4,218.0 L1754.3,223.5 L1757.3,229.2 L1760.2,234.9 L1763.2,240.7 L1766.1,246.5 L1769.1,252.2 L1772.0,257.9 L1775.0,263.5 L1777.9,268.8 L1780.9,274.0 L1783.8,279.0 L1786.8,283.7 L1789.7,288.3 L1792.7,292.7 L1795.6,297.0 L1798.6,301.1 L1801.5,305.0 L1804.5,308.9 L1807.4,312.5 L1810.4,316.1 L1813.3,319.5 L1816.3,322.9 L1819.2,326.1 L1822.2,329.2 L1825.1,332.3 L1828.1,335.3 L1831.0,338.2 L1834.0,341.1 L1836.9,343.9 L1839.9,346.7 L1842.8,349.4 L1845.8,352.2 L1848.7,354.9 L1851.7,357.6 L1854.6,360.3 L1857.6,363.0 L1860.5,365.7 L1863.5,368.4 L1866.4,371.1 L1869.4,373.7 L1872.3,376.3 L1875.3,378.9 L1878.2,381.5 L1881.2,384.0 L1884.1,386.4 L1887.1,388.9 L1890.0,391.2 L1893.0,393.5 L1895.9,395.7 L1898.9,397.8 L1901.8,399.9 L1904.8,401.8 L1907.7,403.7 L1910.7,405.4 L1913.6,407.1 L1916.6,408.6 L1919.5,410.1" fill="none" stroke="#f8a050" stroke-width="1.25" stroke-dasharray="2.6 3.4"/>
<path d="M1450.5,435.0 L1453.4,433.6 L1456.4,432.2 L1459.3,430.7 L1462.3,429.2 L1465.2,427.6 L1468.2,425.9 L1471.1,424.3 L1474.1,422.5 L1477.0,420.7 L1480.0,418.9 L1482.9,417.0 L1485.9,415.1 L1488.8,413.1 L1491.8,411.1 L1494.7,409.0 L1497.7,406.9 L1500.6,404.7 L1503.6,402.4 L1506.5,400.1 L1509.5,397.8 L1512.4,395.3 L1515.4,392.9 L1518.3,390.3 L1521.3,387.7 L1524.2,385.1 L1527.2,382.4 L1530.1,379.6 L1533.1,376.8 L1536.0,373.9 L1539.0,370.9 L1541.9,367.9 L1544.9,364.8 L1547.8,361.7 L1550.8,358.5 L1553.7,355.2 L1556.7,351.8 L1559.6,348.4 L1562.6,345.0 L1565.5,341.5 L1568.5,337.9 L1571.4,334.3 L1574.4,330.6 L1577.3,326.9 L1580.3,323.1 L1583.2,319.2 L1586.2,315.3 L1589.1,311.3 L1592.1,307.1 L1595.0,302.7 L1598.0,298.1 L1600.9,293.5 L1603.9,288.8 L1606.8,284.0 L1609.8,279.3 L1612.7,274.6 L1615.7,270.0 L1618.6,265.5 L1621.6,261.2 L1624.5,257.1 L1627.5,253.2 L1630.4,249.6 L1633.4,246.4 L1636.3,243.4 L1639.3,240.9 L1642.2,238.8 L1645.2,237.1 L1648.1,235.7 L1651.1,234.7 L1654.0,233.9 L1657.0,233.4 L1659.9,233.1 L1662.9,232.9 L1665.8,232.8 L1668.8,232.9 L1671.7,233.1 L1674.7,233.5 L1677.6,234.0 L1680.6,234.7 L1683.5,235.7 L1686.5,236.8 L1689.4,238.2 L1692.4,239.8 L1695.3,241.7 L1698.3,243.9 L1701.2,246.4 L1704.2,249.3 L1707.1,252.5 L1710.1,255.9 L1713.0,259.4 L1716.0,263.0 L1718.9,266.6 L1721.9,270.2 L1724.8,273.9 L1727.8,277.5 L1730.7,281.1 L1733.7,284.7 L1736.6,288.4 L1739.6,292.0 L1742.5,295.6 L1745.5,299.2 L1748.4,302.7 L1751.4,306.3 L1754.3,309.8 L1757.3,313.3 L1760.2,316.8 L1763.2,320.2 L1766.1,323.6 L1769.1,327.0 L1772.0,330.3 L1775.0,333.6 L1777.9,336.8 L1780.9,340.0 L1783.8,343.1 L1786.8,346.2 L1789.7,349.3 L1792.7,352.2 L1795.6,355.1 L1798.6,358.0 L1801.5,360.7 L1804.5,363.5 L1807.4,366.2 L1810.4,368.8 L1813.3,371.3 L1816.3,373.8 L1819.2,376.3 L1822.2,378.7 L1825.1,381.1 L1828.1,383.4 L1831.0,385.6 L1834.0,387.8 L1836.9,390.0 L1839.9,392.1 L1842.8,394.2 L1845.8,396.2 L1848.7,398.2 L1851.7,400.1 L1854.6,402.0 L1857.6,403.9 L1860.5,405.7 L1863.5,407.5 L1866.4,409.2 L1869.4,410.9 L1872.3,412.6 L1875.3,414.2 L1878.2,415.8 L1881.2,417.4 L1884.1,418.9 L1887.1,420.4 L1890.0,421.9 L1893.0,423.3 L1895.9,424.8 L1898.9,426.1 L1901.8,427.5 L1904.8,428.8 L1907.7,430.1 L1910.7,431.4 L1913.6,432.7 L1916.6,433.9 L1919.5,435.1" fill="none" stroke="#5555f5" stroke-width="1.25"/>
<path d="M1450.5,433.6 L1453.4,432.4 L1456.4,431.1 L1459.3,429.8 L1462.3,428.5 L1465.2,427.2 L1468.2,425.8 L1471.1,424.4 L1474.1,423.0 L1477.0,421.6 L1480.0,420.1 L1482.9,418.6 L1485.9,417.1 L1488.8,415.5 L1491.8,413.9 L1494.7,412.3 L1497.7,410.6 L1500.6,408.9 L1503.6,407.2 L1506.5,405.4 L1509.5,403.6 L1512.4,401.8 L1515.4,399.9 L1518.3,398.0 L1521.3,396.0 L1524.2,394.0 L1527.2,392.0 L1530.1,389.9 L1533.1,387.8 L1536.0,385.6 L1539.0,383.4 L1541.9,381.2 L1544.9,378.9 L1547.8,376.5 L1550.8,374.1 L1553.7,371.7 L1556.7,369.2 L1559.6,366.7 L1562.6,364.1 L1565.5,361.4 L1568.5,358.7 L1571.4,356.0 L1574.4,353.2 L1577.3,350.3 L1580.3,347.4 L1583.2,344.4 L1586.2,341.4 L1589.1,338.3 L1592.1,335.2 L1595.0,332.0 L1598.0,328.7 L1600.9,325.4 L1603.9,322.0 L1606.8,318.6 L1609.8,315.1 L1612.7,311.6 L1615.7,308.1 L1618.6,304.5 L1621.6,300.9 L1624.5,297.4 L1627.5,293.8 L1630.4,290.2 L1633.4,286.7 L1636.3,283.2 L1639.3,279.7 L1642.2,276.2 L1645.2,272.8 L1648.1,269.5 L1651.1,266.2 L1654.0,263.0 L1657.0,259.9 L1659.9,256.9 L1662.9,254.0 L1665.8,251.2 L1668.8,248.6 L1671.7,246.2 L1674.7,244.0 L1677.6,242.1 L1680.6,240.5 L1683.5,239.1 L1686.5,238.1 L1689.4,237.3 L1692.4,236.7 L1695.3,236.3 L1698.3,236.1 L1701.2,236.1 L1704.2,236.3 L1707.1,236.7 L1710.1,237.3 L1713.0,238.2 L1716.0,239.3 L1718.9,240.6 L1721.9,242.1 L1724.8,243.9 L1727.8,245.9 L1730.7,248.1 L1733.7,250.6 L1736.6,253.3 L1739.6,256.3 L1742.5,259.5 L1745.5,262.9 L1748.4,266.5 L1751.4,270.3 L1754.3,274.2 L1757.3,278.3 L1760.2,282.4 L1763.2,286.6 L1766.1,290.9 L1769.1,295.2 L1772.0,299.5 L1775.0,303.7 L1777.9,307.9 L1780.9,312.1 L1783.8,316.1 L1786.8,320.0 L1789.7,323.8 L1792.7,327.5 L1795.6,331.2 L1798.6,334.7 L1801.5,338.2 L1804.5,341.6 L1807.4,344.9 L1810.4,348.1 L1813.3,351.3 L1816.3,354.3 L1819.2,357.4 L1822.2,360.3 L1825.1,363.2 L1828.1,366.0 L1831.0,368.7 L1834.0,371.4 L1836.9,374.1 L1839.9,376.6 L1842.8,379.2 L1845.8,381.6 L1848.7,384.1 L1851.7,386.5 L1854.6,388.8 L1857.6,391.1 L1860.5,393.4 L1863.5,395.6 L1866.4,397.8 L1869.4,400.0 L1872.3,402.2 L1875.3,404.3 L1878.2,406.4 L1881.2,408.5 L1884.1,410.5 L1887.1,412.6 L1890.0,414.6 L1893.0,416.6 L1895.9,418.7 L1898.9,420.7 L1901.8,422.7 L1904.8,424.7 L1907.7,426.7 L1910.7,428.7 L1913.6,430.8 L1916.6,432.8 L1919.5,434.8" fill="none" stroke="#5555f5" stroke-width="1.25"/>
<line x1="1820" y1="89.5" x2="1871.5" y2="89.5" stroke="#f03a3a" stroke-width="1.7"/>
<text x="1883.30" y="97.10" font-family='"Liberation Sans", Arial, Helvetica, sans-serif' font-size="22.8" font-weight="normal" font-style="normal" fill="#222" text-anchor="start" textLength="76.5" lengthAdjust="spacingAndGlyphs"  stroke="#222" stroke-width="0.3" stroke-linejoin="round">θ = 45 °</text>
<line x1="1820" y1="117.5" x2="1871.5" y2="117.5" stroke="#3f9a3f" stroke-width="1.7" stroke-dasharray="3 3.4"/>
<text x="1883.30" y="125.10" font-family='"Liberation Sans", Arial, Helvetica, sans-serif' font-size="22.8" font-weight="normal" font-style="normal" fill="#222" text-anchor="start"  stroke="#222" stroke-width="0.3" stroke-linejoin="round">30 °</text>
<line x1="1820" y1="146" x2="1871.5" y2="146" stroke="#f8a050" stroke-width="1.7" stroke-dasharray="3 3.4"/>
<text x="1883.30" y="153.60" font-family='"Liberation Sans", Arial, Helvetica, sans-serif' font-size="22.8" font-weight="normal" font-style="normal" fill="#222" text-anchor="start"  stroke="#222" stroke-width="0.3" stroke-linejoin="round">15 °</text>
<line x1="1820" y1="177" x2="1871.5" y2="177" stroke="#4a4af5" stroke-width="1.7"/>
<text x="1888.50" y="183.40" font-family='"Liberation Sans", Arial, Helvetica, sans-serif' font-size="22.8" font-weight="normal" font-style="normal" fill="#222" text-anchor="start"  stroke="#222" stroke-width="0.3" stroke-linejoin="round">0 °</text>
</g>
</svg>
</body></html>
